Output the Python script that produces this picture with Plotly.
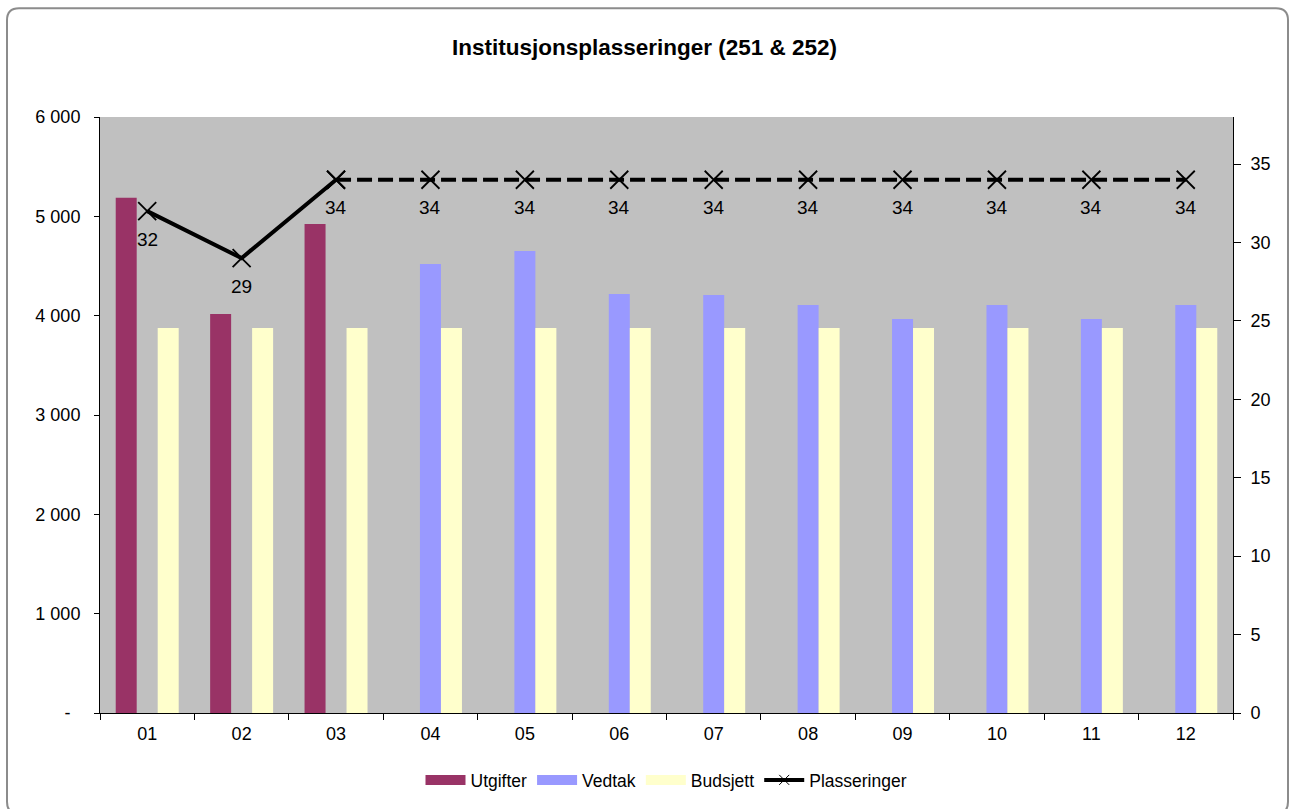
import plotly.graph_objects as go

months = ["01", "02", "03", "04", "05", "06", "07", "08", "09", "10", "11", "12"]
utgifter = [5186, 4018, 4924, None, None, None, None, None, None, None, None, None]
vedtak = [None, None, None, 4521, 4652, 4219, 4209, 4108, 3967, 4108, 3967, 4108]
budsjett = [3877] * 12
plass_actual = [32, 29, 34]
plass_forecast = [34, 34, 34, 34, 34, 34, 34, 34, 34, 34]
plass_all = plass_actual + plass_forecast[1:]

left_ticks = [0, 1000, 2000, 3000, 4000, 5000, 6000]
left_ticktext = ["-\u00a0\u00a0", "1 000", "2 000", "3 000", "4 000", "5 000", "6 000"]
right_ticks = [0, 5, 10, 15, 20, 25, 30, 35]

W, H = 1289, 809
ML, MR, MT, MB = 100, 56, 117, 95
PW, PH = W - ML - MR, H - MT - MB

def px(x):
    return (x - ML) / PW

def py(y):
    return (H - MB - y) / PH

FONT = "Liberation Sans, Arial, sans-serif"
COL_U, COL_V, COL_B = "#993366", "#9999FF", "#FFFFCC"

fig = go.Figure()
fig.add_trace(go.Bar(x=months, y=utgifter, name="Utgifter", marker_color=COL_U,
                     marker_line_width=0, showlegend=False))
fig.add_trace(go.Bar(x=months, y=vedtak, name="Vedtak", marker_color=COL_V,
                     marker_line_width=0, showlegend=False))
fig.add_trace(go.Bar(x=months, y=budsjett, name="Budsjett", marker_color=COL_B,
                     marker_line_width=0, showlegend=False))

MK = dict(symbol="x-thin", size=18, line=dict(width=1.8, color="black"))
fig.add_trace(go.Scatter(x=months[:3], y=plass_actual, name="Plasseringer", yaxis="y2",
                         mode="lines+markers", line=dict(color="black", width=4),
                         marker=MK, showlegend=False))
fig.add_trace(go.Scatter(x=months[2:], y=plass_forecast, name="Plasseringer", yaxis="y2",
                         mode="lines+markers", line=dict(color="black", width=4, dash="15px,6px"),
                         marker=MK, showlegend=False))

# legend entries (Excel-style wide swatches)
for nm, c in [("Utgifter", COL_U), ("Vedtak", COL_V), ("Budsjett", COL_B)]:
    fig.add_trace(go.Scatter(x=[None], y=[None], name=nm, mode="lines",
                             line=dict(color=c, width=10), showlegend=True))
fig.add_trace(go.Scatter(x=[None], y=[None], name="Plasseringer", mode="lines+markers",
                         line=dict(color="black", width=4),
                         marker=dict(symbol="x-thin", size=10, line=dict(width=1, color="black")),
                         showlegend=True))

# data labels below points (category index positions)
for i, v in enumerate(plass_all):
    fig.add_annotation(x=i, y=v, xref="x", yref="y2", text=str(v), showarrow=False,
                       yshift=-28, font=dict(size=19, color="black", family=FONT))

# outer rounded frame
x0, x1 = px(7), px(1288)
y0, y1 = py(8), py(815)
rx, ry = 12 / PW, 12 / PH
path = (f"M {x0+rx},{y0} L {x1-rx},{y0} Q {x1},{y0} {x1},{y0-ry} "
        f"L {x1},{y1+ry} Q {x1},{y1} {x1-rx},{y1} L {x0+rx},{y1} Q {x0},{y1} {x0},{y1+ry} "
        f"L {x0},{y0-ry} Q {x0},{y0} {x0+rx},{y0} Z")
fig.add_shape(type="path", xref="paper", yref="paper", path=path,
              line=dict(color="#8c8c8c", width=2), layer="below")

fig.update_layout(
    width=W, height=H,
    margin=dict(l=ML, r=MR, t=MT, b=MB),
    paper_bgcolor="white", plot_bgcolor="#C0C0C0",
    barmode="group", bargap=0.333, bargroupgap=0,
    title=dict(text="<b>Institusjonsplasseringer (251 & 252)</b>", x=0.5, xanchor="center",
               y=1 - 47 / H, yanchor="middle",
               font=dict(size=22.5, color="black", family=FONT)),
    font=dict(family=FONT, size=18, color="black"),
    xaxis=dict(type="category", range=[-0.5, 11.5], tickson="boundaries", ticks="outside",
               ticklen=6, tickcolor="black", showline=True, linecolor="black", linewidth=1,
               showgrid=False, tickfont=dict(size=18), ticklabelstandoff=4),
    yaxis=dict(range=[0, 6000], tickvals=left_ticks, ticktext=left_ticktext,
               ticks="outside", ticklen=5, tickcolor="black", showline=True,
               linecolor="black", linewidth=1, showgrid=False, zeroline=False,
               tickfont=dict(size=18), ticklabelstandoff=10),
    yaxis2=dict(range=[0, 38], tickvals=right_ticks, overlaying="y", side="right",
                ticks="outside", ticklen=7, tickcolor="black", showline=True,
                linecolor="black", linewidth=1, showgrid=False, zeroline=False,
                tickfont=dict(size=18), ticklabelstandoff=6),
    legend=dict(orientation="h", x=0.5, xanchor="center", y=py(780), yanchor="middle",
                font=dict(size=17.5), bgcolor="rgba(0,0,0,0)", traceorder="normal",
                itemwidth=40),
    showlegend=True,
)

fig.write_html("out.html", config={"displayModeBar": False},
               post_script="document.body.style.margin='0';")
